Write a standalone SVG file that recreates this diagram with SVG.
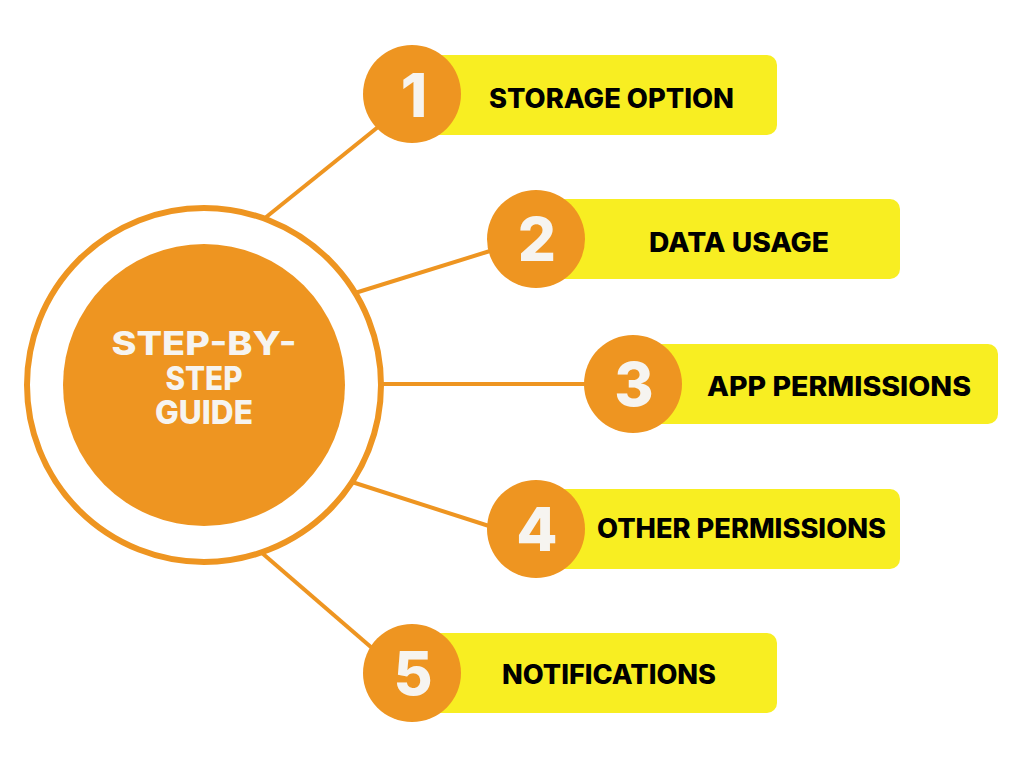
<svg xmlns="http://www.w3.org/2000/svg" width="1024" height="768" viewBox="0 0 1024 768">
<style>
.conn{stroke:#EE9521;stroke-width:4;fill:none}
.bar{fill:#F8EE22}
.disc{fill:#EE9521}
.num{font-family:Inter,"Liberation Sans",Arial,sans-serif;font-weight:800;font-size:60px;fill:#F6F4F0;text-anchor:middle}
.lbl{font-family:Inter,"Liberation Sans",Arial,sans-serif;font-weight:800;font-size:26.5px;fill:#000}
.ctr{font-family:Inter,"Liberation Sans",Arial,sans-serif;font-weight:800;font-size:32px;fill:#F6F4F0;text-anchor:middle}
</style>
<rect width="1024" height="768" fill="#fff"/>
<g id="connectors">
<line class="conn" x1="265" y1="218" x2="378" y2="127"/>
<line class="conn" x1="355" y1="293" x2="490" y2="251"/>
<line class="conn" x1="382" y1="384" x2="586" y2="384"/>
<line class="conn" x1="352" y1="482" x2="489" y2="526"/>
<line class="conn" x1="262" y1="553" x2="372" y2="648"/>
</g>
<g id="center">
<circle cx="204" cy="385" r="177" fill="#fff" stroke="#EE9521" stroke-width="6"/>
<circle cx="204" cy="385" r="141" class="disc"/>
<text class="ctr" x="204" y="355" textLength="185" lengthAdjust="spacingAndGlyphs">STEP-BY-</text>
<text class="ctr" x="204" y="389.5" textLength="77" lengthAdjust="spacingAndGlyphs">STEP</text>
<text class="ctr" x="204" y="424" textLength="98" lengthAdjust="spacingAndGlyphs">GUIDE</text>
</g>
<g id="step1">
<rect class="bar" x="412" y="55" width="365" height="80" rx="10"/>
<circle class="disc" cx="412" cy="94" r="49"/>
<text class="num" x="414" y="117">1</text>
<text class="lbl" x="489" y="108" textLength="245" lengthAdjust="spacingAndGlyphs">STORAGE OPTION</text>
</g>
<g id="step2">
<rect class="bar" x="536" y="199" width="364" height="80" rx="10"/>
<circle class="disc" cx="536" cy="239" r="49"/>
<text class="num" x="537" y="261">2</text>
<text class="lbl" x="649" y="252" textLength="180" lengthAdjust="spacingAndGlyphs">DATA USAGE</text>
</g>
<g id="step3">
<rect class="bar" x="633" y="344" width="365" height="80" rx="10"/>
<circle class="disc" cx="633" cy="384" r="49"/>
<text class="num" x="634" y="406">3</text>
<text class="lbl" x="707" y="396" textLength="264" lengthAdjust="spacingAndGlyphs">APP PERMISSIONS</text>
</g>
<g id="step4">
<rect class="bar" x="536" y="489" width="364" height="80" rx="10"/>
<circle class="disc" cx="536" cy="529" r="49"/>
<text class="num" x="537" y="551">4</text>
<text class="lbl" x="597" y="538" textLength="289" lengthAdjust="spacingAndGlyphs">OTHER PERMISSIONS</text>
</g>
<g id="step5">
<rect class="bar" x="412" y="633" width="365" height="80" rx="10"/>
<circle class="disc" cx="412" cy="673" r="49"/>
<text class="num" x="413" y="695">5</text>
<text class="lbl" x="502" y="684" textLength="214" lengthAdjust="spacingAndGlyphs">NOTIFICATIONS</text>
</g>
</svg>
